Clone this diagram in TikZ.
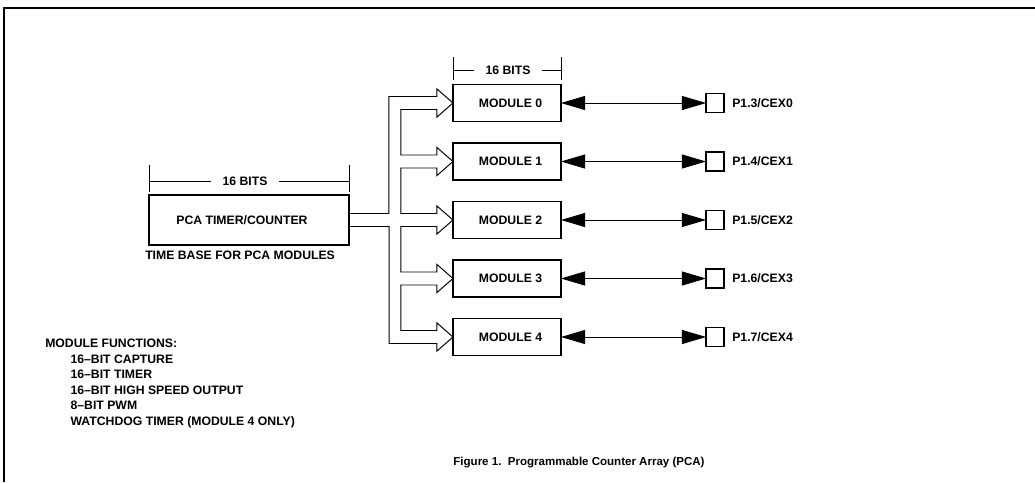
\documentclass[tikz,border=0pt]{standalone}
\usepackage{fontspec}
\setmainfont{Liberation Sans}
\usetikzlibrary{arrows.meta,calc}

\begin{document}
\begin{tikzpicture}[x=0.025cm,y=-0.025cm,
        every node/.style={font=\bfseries\fontsize{8.7}{11}\selectfont},
        unitbox/.style={draw,line width=1.3pt,outer sep=0pt,inner sep=0pt,minimum width=2.7cm,minimum height=0.925cm},
        pinbox/.style={draw,line width=1pt,outer sep=0pt,inner sep=0pt,minimum width=0.45cm,minimum height=0.47cm},
        bits/.style={inner xsep=8pt},
        bus/.style={line width=0.7pt},
        head/.style={insert path={-- ($(#1.west)+(-16,-6.5)$) -- ($(#1.west)+(-16,-14)$) -- (#1.west) -- ($(#1.west)+(-16,14)$) -- ($(#1.west)+(-16,6.5)$)}},
        link/.style={line width=0.6pt,{Triangle[length=0.6cm,width=0.35cm]}-{Triangle[length=0.6cm,width=0.35cm]}}]
    \useasboundingbox (0,0) rectangle (1035,482);
    \draw[line width=1pt] (4,482) -- (4,8) -- (1035,8);

    % timer
    \node[unitbox,minimum width=5cm,minimum height=1.25cm] (pca) at (249,220) {\hspace*{-10pt}PCA TIMER/COUNTER};
    \node[anchor=north west,inner sep=0pt] (tbase) at ($(pca.south west)+(-4,6)$) {TIME BASE FOR PCA MODULES};
    \node[bits] (pcabits) at ($(pca.north)+(-4,-14)$) {16 BITS};
    \draw ($(pca.north west)+(0,-3)$) -- ++(0,-27);
    \draw ($(pca.north east)+(0,-3)$) -- ++(0,-27);
    \draw (pcabits.west) -- (pcabits.west -| pca.west);
    \draw (pcabits.east) -- (pcabits.east -| pca.east);

    % modules and pins
    \foreach \i/\yy/\pn in {0/103/3,1/161.5/4,2/220/5,3/278.5/6,4/337/7} {
        \node[unitbox] (m\i) at (507,\yy) {\hspace*{5pt}MODULE \i};
        \node[pinbox] (p\i) at (715,\yy) {};
        \node[anchor=west,inner sep=0pt] (l\i) at ($(p\i.east)+(8,0)$) {P1.\pn/CEX\i};
        \draw[link] (m\i.east) -- (p\i.west);
    }
    \node[bits] (modbits) at ($(m0.north)+(1,-14)$) {16 BITS};
    \draw ($(m0.north west)+(0,-4)$) -- ++(0,-23);
    \draw ($(m0.north east)+(0,-4)$) -- ++(0,-23);
    \draw (modbits.west) -- (modbits.west -| m0.west);
    \draw (modbits.east) -- (modbits.east -| m0.east);

    % hollow bus
    \draw[bus] ($(pca.east)+(0,-6.5)$) -| ($(m0.west)+(-64,-6.5)$) [head=m0]
        -| ($(m1.west)+(-52,-6.5)$) [head=m1]
        -| ($(m2.west)+(-52,-6.5)$) [head=m2]
        -| ($(m3.west)+(-52,-6.5)$) [head=m3]
        -| ($(m4.west)+(-52,-6.5)$) [head=m4]
        -| ($(pca.east)+(40,6.5)$) -- ($(pca.east)+(0,6.5)$);

    \node[anchor=north west,align=left,inner sep=0pt] (funcs) at (45,339) {MODULE FUNCTIONS:\\
        \hspace*{18pt}16--BIT CAPTURE\\
        \hspace*{18pt}16--BIT TIMER\\
        \hspace*{18pt}16--BIT HIGH SPEED OUTPUT\\
        \hspace*{18pt}8--BIT PWM\\
        \hspace*{18pt}WATCHDOG TIMER (MODULE 4 ONLY)};
    \node (caption) at (579,463) {\fontsize{8.2}{10}\selectfont Figure 1.\ \ Programmable Counter Array (PCA)};
\end{tikzpicture}
\end{document}
